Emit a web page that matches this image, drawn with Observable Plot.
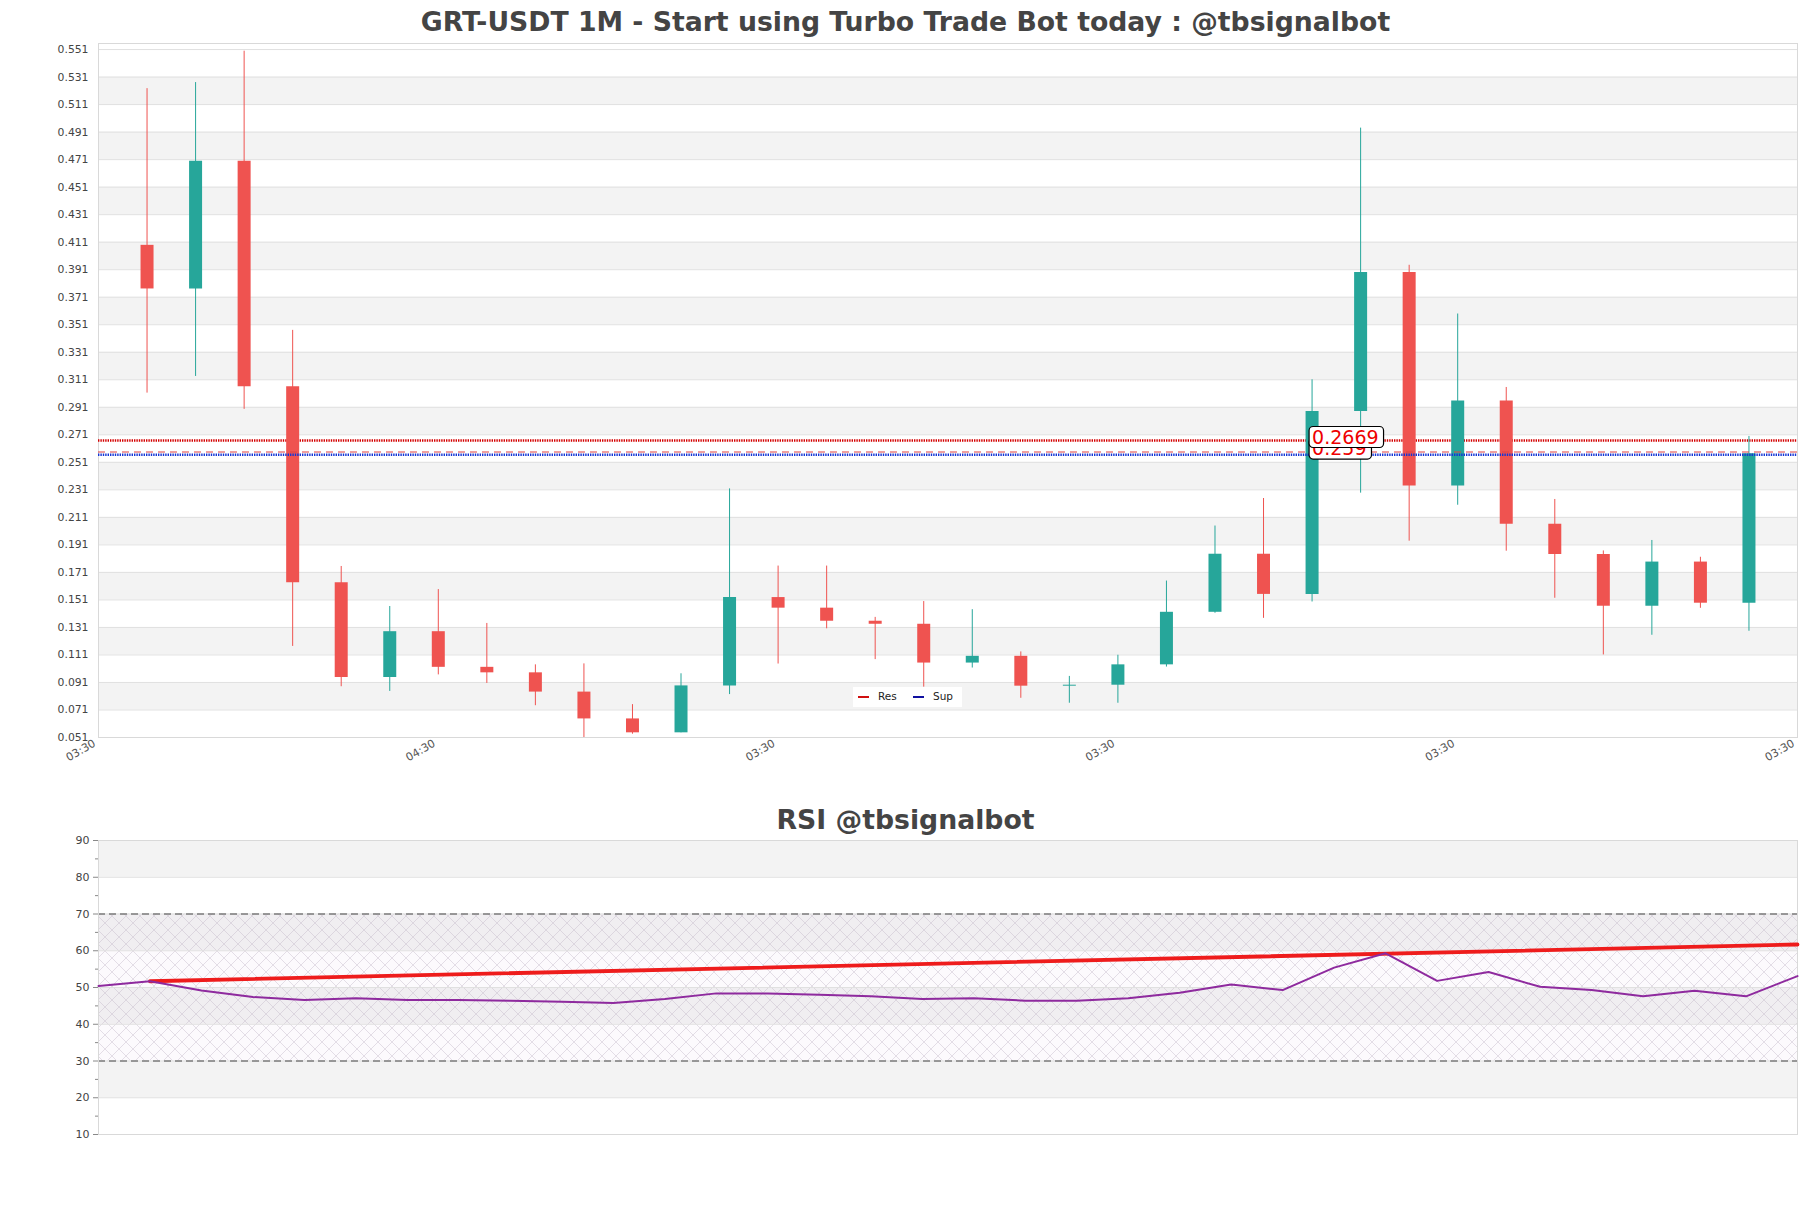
<!DOCTYPE html>
<html>
<head>
<meta charset="utf-8">
<script src="https://cdn.jsdelivr.net/npm/d3@7"></script>
<script src="https://cdn.jsdelivr.net/npm/@observablehq/plot@0.6"></script>
<style>
  body { margin: 0; background: #fff; }
  #wrap { position: relative; width: 1811px; height: 1208px; overflow: hidden; font-family: "DejaVu Sans", sans-serif; }
  .title { position: absolute; left: 0; width: 1811px; text-align: center; font-family: "DejaVu Sans", sans-serif; font-weight: bold; font-size: 26.7px; line-height: 32px; color: #444; z-index: 5; }
  #main, #rsi { position: absolute; left: 0; }
  #main { top: 0; }
  #rsi { top: 790px; }
  #legend { position: absolute; left: 853px; top: 687px; width: 109px; height: 20px; background: #fff; z-index: 5; font-size: 10.5px; color: #222; }
  #legend span { position: absolute; top: 3px; }
  #legend i { position: absolute; top: 9px; width: 11px; height: 2px; }
</style>
</head>
<body>
<svg width="0" height="0" style="position:absolute">
  <defs>
    <pattern id="hatch" patternUnits="userSpaceOnUse" width="14" height="14">
      <path d="M0,0 L14,14 M14,0 L0,14" stroke="#bdb2c4" stroke-width="0.5" stroke-opacity="0.8" fill="none"/>
    </pattern>
  </defs>
</svg>
<div id="wrap">
  <div class="title" style="top:6px">GRT-USDT 1M - Start using Turbo Trade Bot today : @tbsignalbot</div>
  <div id="main"></div>
  <div id="legend">
    <i style="left:5px;background:#d01010"></i><span style="left:25px">Res</span>
    <i style="left:60px;background:#1010a0"></i><span style="left:80px">Sup</span>
  </div>
  <div class="title" style="top:804px">RSI @tbsignalbot</div>
  <div id="rsi"></div>
</div>
<script>
// ---------- data ----------
const openP  = [0.4087,0.377,0.4698,0.306,0.1635,0.0946,0.1279,0.102,0.098,0.084,0.0645,0.0544,0.0885,0.1527,0.145,0.1355,0.1333,0.1051,0.110,0.0883,0.089,0.1038,0.142,0.1842,0.155,0.288,0.389,0.2337,0.2956,0.206,0.184,0.1464,0.1785,0.1486];
const closeP = [0.377,0.4698,0.306,0.1635,0.0946,0.1279,0.102,0.098,0.084,0.0645,0.0544,0.0885,0.1527,0.145,0.1355,0.1333,0.1051,0.110,0.0883,0.089,0.1038,0.142,0.1842,0.155,0.288,0.389,0.2337,0.2956,0.206,0.184,0.1464,0.1785,0.1486,0.2572];
const highP  = [0.5226,0.527,0.5498,0.3469,0.1753,0.1462,0.1585,0.1339,0.1038,0.1045,0.0749,0.0973,0.2317,0.1756,0.1756,0.1383,0.1498,0.1439,0.1132,0.0954,0.1108,0.1647,0.2047,0.2247,0.311,0.4939,0.3942,0.3588,0.3054,0.224,0.1866,0.1942,0.182,0.2698];
const lowP   = [0.3013,0.3134,0.2895,0.1172,0.0879,0.0845,0.0965,0.0903,0.0741,0.051,0.0534,0.0544,0.0822,0.1044,0.130,0.1076,0.0876,0.1015,0.0795,0.0759,0.0759,0.1022,0.1413,0.1376,0.1495,0.2286,0.1937,0.2198,0.1864,0.1522,0.111,0.1253,0.1449,0.1282];

const priceTicks = [0.051,0.071,0.091,0.111,0.131,0.151,0.171,0.191,0.211,0.231,0.251,0.271,0.291,0.311,0.331,0.351,0.371,0.391,0.411,0.431,0.451,0.471,0.491,0.511,0.531,0.551];
const xTickPos = [0, 7, 14, 21, 28, 35];
const xTickLabels = ["03:30","04:30","03:30","03:30","03:30","03:30"];

const resLevel = 0.2669;
const resLevel2 = 0.2585;
const supLevel = 0.2565;
const levelLabels = [
  {x: 25, v: 0.2585, t: "0.259"},
  {x: 25, v: 0.2669, t: "0.2669"}
];

const rsiValues = [50.4,51.7,49.2,47.4,46.6,47.1,46.6,46.6,46.4,46.1,45.8,46.9,48.4,48.4,48.0,47.6,46.9,47.1,46.4,46.4,47.1,48.6,50.8,49.3,55.4,59.3,51.8,54.2,50.2,49.3,47.6,49.1,47.6,53.1];
const trendX = [1, 33];
const trendY = [51.7, 61.7];
const rsiTicks = [10,20,30,40,50,60,70,80,90];
const rsiMinor = [15,25,35,45,55,65,75,85];
const rsiLevels = [30, 70];

// ---------- derived tables ----------
const GREEN = "#26a69a", RED = "#ef5350";
const candles = openP.map((o, k) => ({
  i: k + 1, open: o, close: closeP[k], high: highP[k], low: lowP[k],
  col: closeP[k] >= o ? GREEN : RED
}));
const bands = [];
for (let k = 1; k + 1 < priceTicks.length; k += 2) bands.push({y1: priceTicks[k], y2: priceTicks[k + 1]});
const rsiBands = [];
for (let k = 1; k + 1 < rsiTicks.length; k += 2) rsiBands.push({y1: rsiTicks[k], y2: rsiTicks[k + 1]});
const rsiData = rsiValues.map((v, i) => ({i, v}));
const trend = trendX.map((x, k) => ({x, y: trendY[k]}));

// ---------- main chart ----------
const main = Plot.plot({
  width: 1811, height: 780,
  marginTop: 43, marginBottom: 43, marginLeft: 98, marginRight: 14,
  x: {domain: [0, 35], axis: null},
  y: {domain: [0.051, 0.5554], axis: null},
  color: {type: "identity"},
  style: {fontFamily: "DejaVu Sans, sans-serif", fontSize: "10.8px", color: "#444", background: "white"},
  marks: [
    Plot.rect(bands, {y1: "y1", y2: "y2", fill: "#f3f3f3"}),
    Plot.ruleY(priceTicks, {stroke: "#e0e0e0", strokeWidth: 1}),
    Plot.frame({stroke: "#d9d9d9"}),
    Plot.axisY({ticks: priceTicks, tickSize: 0, tickPadding: 10, tickFormat: d => d.toFixed(3), fill: "#444"}),
    Plot.axisX({ticks: xTickPos, tickFormat: d => xTickLabels[xTickPos.indexOf(d)], tickSize: 0, tickPadding: 5, tickRotate: -30, dx: -4, fontSize: 11, fill: "#555"}),
    Plot.ruleY([resLevel], {stroke: "#d40000", strokeWidth: 2.4, strokeDasharray: "1.4,1"}),
    Plot.ruleX(candles, {x: "i", y1: "low", y2: "high", stroke: "col", strokeWidth: 1}),
    Plot.ruleX(candles, {x: "i", y1: "open", y2: "close", stroke: "col", strokeWidth: 13}),
    Plot.ruleY([supLevel], {stroke: "#1535d5", strokeWidth: 2.4, strokeDasharray: "1.4,1"}),
    Plot.ruleY([resLevel2], {stroke: "#e04040", strokeWidth: 1.2, strokeDasharray: "7,5"}),
    Plot.text(levelLabels, {x: "x", y: "v", text: "t", textAnchor: "start", dx: 0, dy: -3, fontSize: 19, fill: "#ee0000"})
  ]
});
document.getElementById("main").append(main);
{
  const ns = "http://www.w3.org/2000/svg";
  const wanted = new Set(levelLabels.map(d => d.t));
  const texts = Array.from(main.querySelectorAll("text")).filter(t => wanted.has(t.textContent.trim()));
  texts.forEach(t => {
    const b = t.getBBox();
    const r = document.createElementNS(ns, "rect");
    r.setAttribute("x", b.x - 3);
    r.setAttribute("y", b.y + 1);
    r.setAttribute("width", b.width + 8);
    r.setAttribute("height", b.height - 1);
    r.setAttribute("rx", 4);
    r.setAttribute("fill", "white");
    r.setAttribute("stroke", "black");
    r.setAttribute("stroke-width", 1.2);
    if (t.getAttribute("transform")) r.setAttribute("transform", t.getAttribute("transform"));
    t.parentNode.insertBefore(r, t);
  });
}

// ---------- RSI chart ----------
const rsi = Plot.plot({
  width: 1811, height: 418,
  marginTop: 50, marginBottom: 74, marginLeft: 98, marginRight: 14,
  x: {domain: [0, 33], axis: null},
  y: {domain: [10, 90], axis: null},
  style: {fontFamily: "DejaVu Sans, sans-serif", fontSize: "11px", color: "#444", background: "white"},
  marks: [
    Plot.rect(rsiBands, {y1: "y1", y2: "y2", fill: "#f3f3f3"}),
    Plot.rect([rsiLevels], {y1: d => d[0], y2: d => d[1], fill: "#c090d0", fillOpacity: 0.045}),
    Plot.rect([rsiLevels], {y1: d => d[0], y2: d => d[1], fill: "url(#hatch)"}),
    Plot.ruleY(rsiTicks, {stroke: "#e0e0e0"}),
    Plot.ruleY(rsiLevels, {stroke: "#444", strokeWidth: 1.2, strokeDasharray: "7,4"}),
    Plot.frame({stroke: "#d9d9d9"}),
    Plot.axisY({ticks: rsiTicks, tickSize: 5, tickPadding: 4, stroke: "#888", fill: "#444"}),
    Plot.axisY({ticks: rsiMinor, tickSize: 3, tickFormat: () => "", stroke: "#888"}),
    Plot.line(trend, {x: "x", y: "y", stroke: "#ee1c1c", strokeWidth: 3.8}),
    Plot.line(rsiData, {x: "i", y: "v", stroke: "#8e2a9e", strokeWidth: 2})
  ]
});
document.getElementById("rsi").append(rsi);
</script>
</body>
</html>
